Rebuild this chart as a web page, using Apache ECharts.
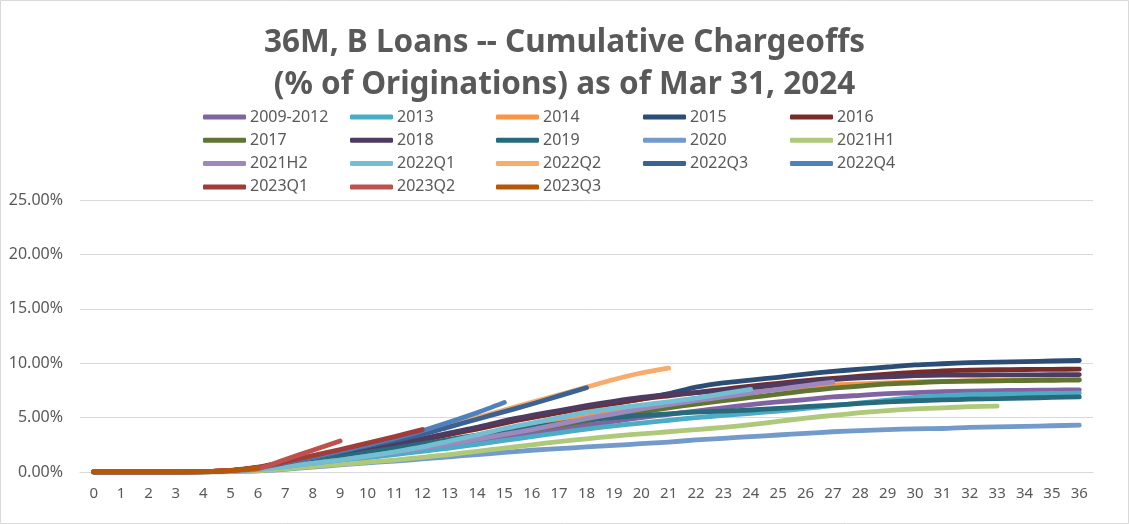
<!DOCTYPE html>
<html><head><meta charset="utf-8">
<script src="https://cdn.jsdelivr.net/npm/echarts@6/dist/echarts.min.js"></script>
<style>html,body{margin:0;padding:0;background:#fff}#c{width:1129px;height:524px}</style>
</head><body><div id="c"></div>
<script>
const months = Array.from({length:37},(_,i)=>String(i));
const yTicks = [0,5,10,15,20,25];
const titleLines = ['36M, B Loans -- Cumulative Chargeoffs','(% of Originations) as of Mar 31, 2024'];
const seriesNames = ['2009-2012','2013','2014','2015','2016','2017','2018','2019','2020','2021H1','2021H2','2022Q1','2022Q2','2022Q3','2022Q4','2023Q1','2023Q2','2023Q3'];
const seriesColors = ['#8064A2','#4BACC6','#F79646','#2C4D75','#772C2A','#5F7530','#4D3B62','#276A7C','#729ACA','#AFC97A','#9D89BC','#72BED2','#F9AB6B','#3A6293','#4F81BD','#9E3D3A','#C0504D','#B65708'];

const v2009_2012 = [0,0,0,0,0.02,0.1,0.3,0.6,0.9,1.2,1.5,1.85,2.2,2.55,2.9,3.25,3.6,3.95,4.3,4.65,5.0,5.3,5.6,5.9,6.2,6.45,6.65,6.9,7.05,7.2,7.3,7.38,7.44,7.48,7.51,7.53,7.55];
const v2013 = [0,0,0,0,0.02,0.08,0.25,0.5,0.75,1.0,1.3,1.6,1.9,2.2,2.55,2.9,3.25,3.6,3.95,4.25,4.5,4.75,5.0,5.2,5.4,5.6,5.85,6.1,6.35,6.6,6.85,7.0,7.1,7.15,7.18,7.22,7.25];
const v2014 = [0,0,0,0,0.02,0.1,0.3,0.6,0.95,1.3,1.7,2.1,2.5,2.9,3.3,3.75,4.2,4.65,5.1,5.5,5.9,6.3,6.7,7.05,7.35,7.6,7.8,8.0,8.1,8.2,8.27,8.33,8.38,8.42,8.45,8.48,8.5];
const v2015 = [0,0,0,0,0.03,0.12,0.4,0.8,1.2,1.65,2.1,2.55,3.0,3.5,4.05,4.55,5.05,5.5,5.9,6.3,6.7,7.2,7.8,8.2,8.45,8.7,9.0,9.25,9.45,9.65,9.85,9.95,10.05,10.1,10.15,10.2,10.25];
const v2016 = [0,0,0,0,0.03,0.12,0.38,0.8,1.2,1.6,2.05,2.5,2.95,3.45,3.95,4.5,5.0,5.45,5.9,6.3,6.7,7.0,7.3,7.6,7.9,8.15,8.4,8.6,8.8,9.0,9.15,9.3,9.35,9.4,9.42,9.44,9.45];
const v2017 = [0,0,0,0,0.02,0.1,0.3,0.6,0.9,1.25,1.6,1.95,2.3,2.7,3.1,3.5,3.9,4.3,4.7,5.1,5.5,5.9,6.25,6.55,6.85,7.15,7.45,7.7,7.9,8.1,8.2,8.3,8.35,8.38,8.41,8.43,8.45];
const v2018 = [0,0,0,0,0.03,0.12,0.4,0.85,1.3,1.7,2.15,2.6,3.05,3.6,4.1,4.7,5.2,5.65,6.1,6.5,6.85,7.1,7.3,7.5,7.75,8.0,8.3,8.5,8.65,8.75,8.85,8.9,8.9,8.92,8.93,8.94,8.95];
const v2019 = [0,0,0,0,0.02,0.1,0.3,0.65,1.0,1.4,1.8,2.2,2.6,3.0,3.4,3.75,4.1,4.45,4.8,5.0,5.2,5.35,5.5,5.6,5.7,5.85,6.0,6.15,6.3,6.45,6.55,6.62,6.7,6.75,6.8,6.85,6.9];
const v2020 = [0,0,0,0,0,0.03,0.1,0.25,0.45,0.65,0.85,1.0,1.2,1.4,1.6,1.8,2.0,2.15,2.3,2.45,2.6,2.75,2.95,3.1,3.25,3.4,3.55,3.7,3.8,3.9,3.97,4.0,4.1,4.15,4.2,4.25,4.3];
const v2021H1 = [0,0,0,0,0,0.03,0.1,0.3,0.5,0.7,0.9,1.1,1.35,1.6,1.9,2.2,2.5,2.8,3.05,3.3,3.5,3.7,3.9,4.1,4.35,4.65,4.95,5.2,5.45,5.65,5.8,5.9,6.0,6.05];
const v2021H2 = [0,0,0,0,0.02,0.08,0.25,0.5,0.8,1.1,1.45,1.8,2.2,2.6,3.0,3.45,3.9,4.4,4.9,5.35,5.8,6.2,6.55,6.9,7.25,7.6,7.95,8.25];
const v2022Q1 = [0,0,0,0,0.02,0.08,0.25,0.5,0.8,1.1,1.45,1.85,2.3,2.85,3.4,4.0,4.5,5.0,5.5,5.85,6.15,6.45,6.8,7.2,7.6];
const v2022Q2 = [0,0,0,0,0.03,0.12,0.4,0.85,1.35,1.9,2.45,3.0,3.6,4.3,5.0,5.7,6.4,7.1,7.8,8.5,9.1,9.55];
const v2022Q3 = [0,0,0,0,0.03,0.12,0.4,0.85,1.35,1.85,2.4,2.9,3.45,4.15,4.85,5.55,6.25,7.0,7.75];
const v2022Q4 = [0,0,0,0,0.03,0.12,0.4,0.9,1.4,1.95,2.5,3.1,3.8,4.6,5.45,6.4];
const v2023Q1 = [0,0,0,0,0.03,0.15,0.45,0.95,1.5,2.05,2.65,3.25,3.9];
const v2023Q2 = [0,0,0,0,0.03,0.15,0.3,1.15,2.0,2.85];
const v2023Q3 = [0,0,0,0,0.02,0.12,0.4];

const seriesValues = [v2009_2012,v2013,v2014,v2015,v2016,v2017,v2018,v2019,v2020,v2021H1,v2021H2,v2022Q1,v2022Q2,v2022Q3,v2022Q4,v2023Q1,v2023Q2,v2023Q3];

const legendCols = [
  ['2009-2012','2017','2021H2','2023Q1'],
  ['2013','2018','2022Q1','2023Q2'],
  ['2014','2019','2022Q2','2023Q3'],
  ['2015','2020','2022Q3'],
  ['2016','2021H1','2022Q4']
];
const legendX = [203,350,496,643,790];
const titleTop = [25,67];

const chart = echarts.init(document.getElementById('c'), null, {renderer:'canvas'});
const txt = '#595959';
chart.setOption({
  animation:false,
  backgroundColor:'#fff',
  graphic:[{type:'rect',shape:{x:0.5,y:0.5,width:1128,height:523},style:{fill:'none',stroke:'#D9D9D9',lineWidth:1},silent:true}],
  title: titleLines.map((t,i)=>({
    text:t, left:'center', top:titleTop[i], padding:0,
    textStyle:{fontFamily:'Noto Sans',fontWeight:'bold',fontSize:31.5,color:txt,lineHeight:36}
  })),
  legend: legendCols.map((col,i)=>({
    data: col,
    orient:'vertical',
    left: legendX[i],
    top: 108,
    icon:'roundRect',
    itemWidth:43, itemHeight:5,
    itemGap:5.3,
    selectedMode:false,
    textStyle:{fontFamily:'Noto Sans',fontSize:16,color:txt,lineHeight:18,padding:[0,0,0,-1]},
    padding:0
  })),
  grid:{left:80,right:36,top:200,bottom:52},
  xAxis:{
    type:'category', data:months, boundaryGap:true,
    axisLine:{show:true,lineStyle:{color:'#D9D9D9',width:1}},
    axisTick:{show:false},
    axisLabel:{color:txt,fontFamily:'Noto Sans',fontSize:15,margin:14,interval:0},
    splitLine:{show:false}
  },
  yAxis:{
    type:'value', min:yTicks[0], max:yTicks[yTicks.length-1], interval:5,
    axisLine:{show:false}, axisTick:{show:false},
    axisLabel:{color:txt,fontFamily:'Noto Sans',fontSize:16,margin:17,formatter:v=>v.toFixed(2)+'%'},
    splitLine:{lineStyle:{color:'#D9D9D9',width:1}}
  },
  series: seriesNames.map((n,i)=>({
    name:n, type:'line', data:seriesValues[i], color:seriesColors[i],
    symbol:'none', smooth:0.25,
    lineStyle:{width:4.8,color:seriesColors[i],cap:'round',join:'round'},
    emphasis:{disabled:true}
  }))
});
</script></body></html>
